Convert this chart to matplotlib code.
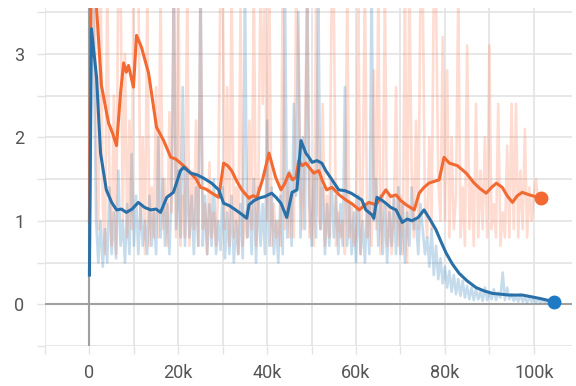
import numpy as np
import matplotlib
matplotlib.use("Agg")
import matplotlib.pyplot as plt
from matplotlib.ticker import FuncFormatter, MultipleLocator

# ---------------- data ----------------
raw_step = 500
orange_raw = [
    1.0, 6.0, 5.0, 2.0, 0.9, 4.0, 1.2, 0.6, 3.8, 1.5,
    0.7, 2.5, 0.6, 4.0, 3.9, 1.0, 3.0, 0.8, 2.2, 0.9,
    4.5, 3.8, 4.0, 0.9, 2.0, 0.6, 3.7, 0.7, 1.4, 0.8,
    2.6, 0.8, 3.8, 0.9, 1.5, 0.7, 2.3, 1.1, 3.7, 0.8,
    4.0, 0.7, 1.3, 0.8, 3.7, 0.7, 1.6, 0.9, 2.2, 0.7,
    3.8, 0.9, 1.2, 0.6, 1.7, 0.8, 1.1, 0.7, 1.4, 4.0,
    3.9, 0.9, 2.6, 0.7, 3.8, 0.8, 1.4, 0.6, 3.6, 0.7,
    1.1, 0.8, 2.2, 0.9, 3.8, 0.7, 1.3, 3.9, 2.4, 3.7,
    1.0, 3.7, 0.7, 1.2, 0.8, 1.0, 0.7, 3.8, 0.9, 1.5,
    0.8, 1.3, 0.8, 3.7, 3.0, 1.4, 0.9, 2.0, 3.7, 0.8,
    1.6, 0.7, 3.6, 1.1, 0.9, 2.4, 0.7, 1.3, 0.8, 3.7,
    3.6, 0.7, 1.1, 0.8, 1.0, 0.6, 3.7, 0.8, 1.2, 0.7,
    0.8, 3.7, 0.6, 1.4, 3.9, 0.8, 1.2, 0.7, 2.8, 0.9,
    3.7, 0.6, 1.0, 3.8, 0.7, 1.3, 0.6, 1.0, 2.6, 0.7,
    1.3, 0.6, 3.7, 0.5, 3.9, 1.6, 0.8, 2.2, 0.9, 3.7,
    3.8, 1.2, 0.8, 2.0, 0.9, 3.8, 3.7, 1.5, 1.0, 3.2,
    1.0, 2.8, 0.8, 2.0, 0.9, 1.3, 3.7, 0.8, 1.4, 0.7,
    3.1, 0.9, 1.5, 0.7, 2.4, 0.8, 1.6, 0.9, 2.0, 0.8,
    3.1, 0.9, 1.2, 0.8, 2.4, 0.7, 1.1, 0.8, 1.9, 0.8,
    2.4, 0.9, 2.4, 0.8, 1.6, 0.9, 2.1, 0.8, 1.4, 1.0,
    1.3, 1.5, 1.2, 1.3]
blue_raw = [
    0.35, 6.0, 3.0, 1.0, 0.5, 1.0, 0.45, 0.9, 0.5, 1.4,
    0.6, 1.1, 0.55, 1.6, 0.7, 1.0, 0.5, 1.2, 0.6, 1.8,
    0.7, 1.3, 0.6, 1.2, 0.7, 1.0, 0.6, 1.3, 0.7, 1.1,
    0.6, 2.0, 0.8, 1.5, 0.7, 1.2, 0.6, 1.4, 4.0, 0.9,
    1.6, 0.8, 2.6, 0.7, 1.6, 0.8, 1.3, 0.6, 1.4, 0.7,
    4.0, 0.7, 1.3, 0.6, 1.2, 0.7, 1.5, 0.6, 1.0, 0.65,
    1.4, 0.55, 1.1, 0.6, 1.3, 0.5, 1.0, 0.6, 1.2, 0.55,
    3.8, 0.8, 1.3, 0.6, 1.5, 0.5, 1.4, 0.7, 1.2, 0.6,
    2.2, 0.7, 1.4, 0.6, 1.0, 0.5, 1.3, 0.6, 3.8, 0.8,
    1.6, 0.7, 2.4, 1.3, 3.5, 0.8, 2.0, 0.9, 3.9, 1.2,
    0.7, 1.6, 0.8, 3.8, 0.9, 1.4, 0.6, 1.2, 0.7, 1.5,
    0.8, 1.3, 0.6, 1.2, 0.7, 2.6, 0.7, 1.2, 0.6, 1.1,
    0.5, 1.3, 0.6, 1.0, 0.5, 1.2, 0.6, 3.8, 1.0, 1.5,
    0.7, 1.3, 0.6, 1.2, 0.5, 1.1, 0.7, 1.3, 0.6, 1.4,
    0.6, 1.2, 0.5, 1.1, 0.7, 1.4, 0.9, 1.0, 0.6, 1.2,
    0.9, 0.6, 0.8, 0.45, 0.9, 0.35, 0.7, 0.3, 0.55, 0.25,
    0.45, 0.2, 0.4, 0.15, 0.35, 0.12, 0.3, 0.1, 0.28, 0.08,
    0.22, 0.06, 0.2, 0.05, 0.18, 0.06, 0.15, 0.04, 0.2, 0.05,
    0.15, 0.06, 0.18, 0.05, 0.14, 0.08, 0.38, 0.05, 0.2, 0.06,
    0.12, 0.04, 0.1, 0.03, 0.12, 0.03, 0.08, 0.02, 0.09, 0.03,
    0.07, 0.02, 0.06, 0.02, 0.05, 0.02, 0.04, 0.03, 0.04, 0.03]

orange_steps = [0, 500, 1000, 1600, 2700, 4300, 5200, 6100, 7000, 7700, 8300, 8800, 9900,
                10600, 11700, 13300, 15100, 16700, 18300, 19400, 20500, 21600, 22800, 24000,
                25000, 26200, 27300, 28200, 29100, 30200, 31100, 32000, 33200, 34300, 35900,
                36800, 37700, 39000, 40400, 41900, 43100, 44000, 44900, 45700, 46500, 47100,
                47900, 48700, 49600, 50500, 51600, 52500, 53400, 54600, 56200, 57700, 59200,
                60700, 61800, 62900, 64500, 65600, 66700, 67800, 69000, 70100, 71300, 73100,
                74200, 75300, 76400, 77500, 78700, 79800, 81000, 82800, 84800, 86600, 88000,
                89300, 90500, 91600, 92900, 94000, 95200, 96300, 97400, 99000, 100300, 101700]
orange_smooth = [1.0, 4.8, 4.6, 3.55, 2.62, 2.17, 2.05, 1.9, 2.53, 2.89, 2.78, 2.86, 2.6,
                 3.22, 3.08, 2.77, 2.12, 1.96, 1.76, 1.74, 1.69, 1.64, 1.57, 1.50,
                 1.40, 1.38, 1.34, 1.31, 1.28, 1.69, 1.66, 1.6, 1.47, 1.37, 1.27,
                 1.30, 1.28, 1.50, 1.81, 1.52, 1.37, 1.45, 1.57, 1.49, 1.52, 1.72,
                 1.66, 1.69, 1.63, 1.57, 1.6, 1.47, 1.37, 1.40, 1.31, 1.25, 1.20,
                 1.13, 1.18, 1.22, 1.19, 1.28, 1.37, 1.29, 1.31, 1.24, 1.19, 1.13,
                 1.33, 1.40, 1.45, 1.47, 1.49, 1.76, 1.69, 1.66, 1.57, 1.45, 1.38,
                 1.33, 1.40, 1.45, 1.40, 1.30, 1.22, 1.30, 1.34, 1.31, 1.29, 1.27]

blue_steps = [0, 450, 1600, 2500, 3800, 5000, 6100, 7200, 8300, 9600, 11000, 12400, 13800,
              15000, 16000, 17400, 18900, 20500, 21200, 22800, 24200, 25700, 27500, 29100,
              30200, 31500, 32900, 34200, 35400, 35900, 37000, 38100, 39500, 41000, 42000,
              43100, 44400, 45600, 46700, 47600, 48700, 49400, 50100, 51200, 52300, 53200,
              54600, 56100, 57500, 58900, 60100, 61300, 62200, 63600, 64000, 64700, 65700,
              66700, 67800, 69000, 70400, 71500, 72600, 74000, 75300, 76600, 78000, 79200,
              80300, 81700, 83200, 85000, 87000, 88800, 90700, 92600, 94500, 97400, 99400,
              101300, 104600]
blue_smooth = [0.35, 3.3, 2.72, 1.81, 1.37, 1.22, 1.13, 1.14, 1.10, 1.14, 1.22, 1.16, 1.13,
               1.14, 1.10, 1.28, 1.34, 1.6, 1.64, 1.57, 1.55, 1.51, 1.45, 1.37,
               1.21, 1.18, 1.13, 1.08, 1.03, 1.19, 1.24, 1.27, 1.29, 1.33, 1.28,
               1.21, 1.04, 1.34, 1.37, 1.96, 1.81, 1.76, 1.70, 1.72, 1.69, 1.6,
               1.49, 1.37, 1.36, 1.33, 1.29, 1.25, 1.13, 1.07, 1.03, 1.28, 1.25,
               1.21, 1.16, 1.13, 0.98, 1.02, 1.0, 1.04, 1.13, 1.02, 0.89, 0.74,
               0.61, 0.48, 0.37, 0.28, 0.20, 0.16, 0.13, 0.12, 0.11, 0.11, 0.09,
               0.07, 0.03]

x_ticks = [0, 20000, 40000, 60000, 80000, 100000]
y_ticks = [0, 1, 2, 3]

# ---------------- style ----------------
ORANGE = "#f26a32"
BLUE = "#2a70a8"
GRID = "#e3e3e3"
ZERO = "#a0a0a0"
TXT = "#555555"

plt.rcParams['font.family'] = ['Roboto', 'DejaVu Sans']

fig = plt.figure(figsize=(5.76, 3.86), dpi=100)
ax = fig.add_axes([45/576, 40/386, 527/576, 338/386])

orange_raw_steps = np.arange(len(orange_raw)) * raw_step
blue_raw_steps = np.arange(len(blue_raw)) * raw_step

ax.plot(blue_raw_steps, blue_raw, color="#1f77b4", alpha=0.25, lw=1.9, zorder=2)
ax.plot(orange_raw_steps, orange_raw, color="#ff7043", alpha=0.24, lw=1.9, zorder=2)

ax.plot(orange_steps, orange_smooth, color=ORANGE, lw=2.2, zorder=4, solid_joinstyle='round')
ax.plot(blue_steps, blue_smooth, color=BLUE, lw=2.2, zorder=5, solid_joinstyle='round')
ax.plot([orange_steps[-1]], [orange_smooth[-1]], 'o', color=ORANGE, ms=9, zorder=6)
ax.plot([blue_steps[-1]], [blue_smooth[-1]], 'o', color="#1f7ac4", ms=9, zorder=6)

ax.set_xlim(-10000, 108600)
ax.set_ylim(-0.5, 3.548)

ax.xaxis.set_major_locator(plt.FixedLocator(x_ticks))
ax.xaxis.set_minor_locator(MultipleLocator(10000))
ax.yaxis.set_major_locator(plt.FixedLocator(y_ticks))
ax.yaxis.set_minor_locator(MultipleLocator(0.5))
ax.xaxis.set_major_formatter(FuncFormatter(lambda v, p: "0" if v == 0 else f"{int(v/1000)}k"))
ax.yaxis.set_major_formatter(FuncFormatter(lambda v, p: f"{int(v)}"))

ax.grid(True, which='both', color=GRID, lw=1.2, zorder=0)
ax.set_axisbelow(True)
ax.axhline(0, color=ZERO, lw=1.5, zorder=1)
ax.axvline(0, color=ZERO, lw=1.5, zorder=1)

for s in ax.spines.values():
    s.set_visible(False)

ax.tick_params(which='both', length=6, width=1, color=GRID, labelsize=13, labelcolor=TXT)
ax.tick_params(axis='x', which='major', pad=7)
ax.tick_params(axis='y', which='major', pad=9)

fig.savefig("out.png", dpi=100)
